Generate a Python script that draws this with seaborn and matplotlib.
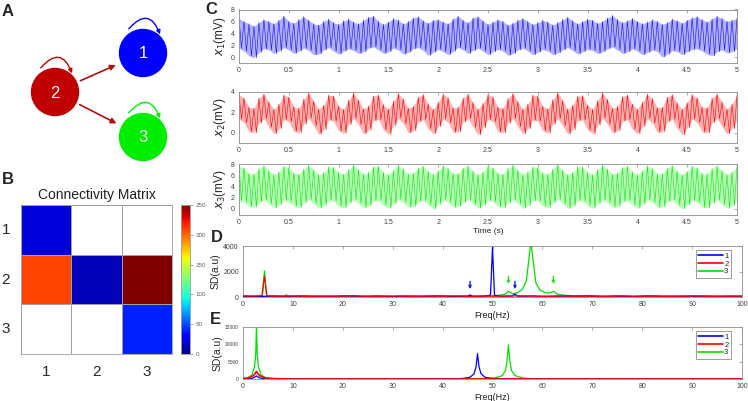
import numpy as np
import matplotlib
matplotlib.use("Agg")
import matplotlib.pyplot as plt
import seaborn as sns
from matplotlib.patches import Circle, FancyArrowPatch
from matplotlib.lines import Line2D
from matplotlib.ticker import FormatStrFormatter

sns.set_style("white")
plt.rcParams['font.family'] = ['Liberation Sans', 'DejaVu Sans']

# ---------------- data ----------------
# network (panel A), node centres in pixels of the panel
node_names = ['1', '2', '3']
node_x = [143, 55, 143]
node_y = [53, 92, 137]
node_colors = ['#0000ff', '#c00000', '#00ee00']
edges = [('2', '1'), ('2', '3')]

# connectivity matrix (panel B), NaN = no connection
conn = np.array([[20, np.nan, np.nan],
                 [209, 12, 250],
                 [np.nan, np.nan, 40]])

# time traces (panel C): upper / lower extremes read every 0.05 s
t_step = 0.05
x1_hi = [6.5, 6.0, 5.6, 5.2, 5.8, 6.3, 6.0, 5.6, 6.2, 6.9,
         6.0, 5.7, 6.3, 6.8, 6.2, 5.6, 5.4, 6.0, 6.4, 5.8,
         5.5, 6.1, 6.4, 5.9, 5.6, 6.2, 6.7, 6.9, 6.0, 5.5,
         5.9, 6.5, 6.2, 5.6, 6.0, 6.6, 6.8, 6.1, 5.7, 6.2,
         6.3, 5.9, 5.6, 6.4, 6.9, 6.2, 5.8, 6.6, 6.8, 6.1,
         5.5, 5.9, 6.3, 6.0, 5.4, 5.7, 6.2, 6.5, 6.0, 5.5,
         5.8, 6.2, 5.9, 5.4, 5.8, 6.3, 6.7, 6.1, 5.6, 6.0,
         6.4, 6.2, 5.7, 6.0, 6.6, 7.0, 6.3, 5.8, 6.1, 6.5,
         6.0, 5.6, 5.9, 6.3, 6.0, 5.5, 5.8, 6.4, 6.1, 5.7,
         6.2, 6.6, 6.8, 6.3, 5.9, 6.4, 6.9, 6.5, 6.0, 6.2,
         6.5]
x1_lo = [1.5, 1.0, 0.2, -0.1, 0.8, 1.4, 1.2, 0.6, 1.0, 1.6,
         1.2, 0.6, 1.0, 1.5, 1.1, 0.4, 0.5, 1.2, 1.6, 1.0,
         0.5, 1.0, 1.4, 1.1, 0.6, 0.9, 1.5, 1.7, 1.2, 0.6,
         0.9, 1.5, 1.2, 0.5, 0.8, 1.4, 1.6, 1.1, 0.3, 0.8,
         1.3, 0.9, 0.4, 1.0, 1.6, 1.2, 0.6, 1.1, 1.5, 1.0,
         0.4, 0.9, 1.3, 1.0, 0.3, 0.6, 1.2, 1.5, 1.0, 0.4,
         0.8, 1.3, 1.0, 0.4, 0.7, 1.2, 1.6, 1.1, 0.5, 0.9,
         1.3, 1.1, 0.6, 0.9, 1.4, 1.7, 1.2, 0.6, 0.9, 1.4,
         1.0, 0.4, 0.8, 1.2, 0.9, 0.0, 0.5, 1.1, 0.9, 0.4,
         0.9, 1.3, 1.4, 1.0, 0.5, 0.2, 0.9, 1.2, 0.7, 0.9,
         1.4]
x2_hi = [3.75, 3.4, 2.5, 2.4, 3.4, 3.8, 3.0, 2.3, 2.8, 3.7,
         3.5, 2.55, 2.4, 3.3, 3.9, 3.1, 2.3, 2.7, 3.7, 3.6,
         2.6, 2.3, 3.2, 3.9, 3.2, 2.35, 2.6, 3.6, 3.7, 2.75,
         2.3, 3.1, 3.85, 3.3, 2.4, 2.6, 3.5, 3.75, 2.8, 2.3,
         3.0, 3.8, 3.4, 2.45, 2.5, 3.4, 3.8, 2.95, 2.3, 2.9,
         3.75, 3.5, 2.5, 2.4, 3.35, 3.85, 3.05, 2.3, 2.8, 3.7,
         3.6, 2.6, 2.35, 3.25, 3.95, 3.15, 2.3, 2.7, 3.6, 3.65,
         2.7, 2.3, 3.15, 3.9, 3.25, 2.4, 2.6, 3.55, 3.7, 2.8,
         2.3, 3.0, 3.8, 3.35, 2.45, 2.5, 3.5, 3.75, 2.9, 2.3,
         2.95, 3.75, 3.4, 2.5, 2.45, 3.4, 3.8, 3.0, 2.3, 2.8,
         3.7]
x2_lo = [1.35, 1.0, 0.1, 0.0, 0.95, 1.4, 0.55, -0.1, 0.4, 1.3,
         1.1, 0.15, 0.0, 0.85, 1.45, 0.7, -0.15, 0.3, 1.25, 1.15,
         0.2, -0.05, 0.8, 1.4, 0.8, -0.1, 0.25, 1.2, 1.3, 0.3,
         -0.15, 0.7, 1.45, 0.9, 0.0, 0.2, 1.1, 1.3, 0.4, -0.1,
         0.6, 1.35, 1.0, 0.05, 0.1, 1.05, 1.4, 0.55, -0.2, 0.5,
         1.3, 1.1, 0.1, 0.0, 0.95, 1.4, 0.6, -0.1, 0.4, 1.25,
         1.15, 0.2, -0.05, 0.85, 1.4, 0.7, -0.1, 0.3, 1.2, 1.25,
         0.3, -0.1, 0.75, 1.45, 0.85, 0.0, 0.2, 1.15, 1.3, 0.35,
         -0.1, 0.6, 1.4, 0.95, 0.05, 0.1, 1.1, 1.35, 0.45, -0.2,
         0.5, 1.35, 1.0, 0.1, 0.0, 1.0, 1.4, 0.6, -0.1, 0.4,
         1.3]
x3_hi = [7.6, 7.3, 6.3, 6.2, 7.2, 7.7, 6.8, 6.1, 6.6, 7.6,
         7.4, 6.4, 6.2, 7.1, 7.8, 6.9, 6.1, 6.5, 7.5, 7.4,
         6.5, 6.2, 7.0, 7.8, 7.0, 6.2, 6.5, 7.5, 7.6, 6.5,
         6.1, 6.9, 7.8, 7.1, 6.2, 6.4, 7.3, 7.6, 6.7, 6.1,
         6.8, 7.7, 7.2, 6.3, 6.3, 7.3, 7.7, 6.7, 6.1, 6.6,
         7.6, 7.3, 6.4, 6.2, 7.2, 7.8, 6.9, 6.1, 6.6, 7.5,
         7.4, 6.4, 6.2, 7.1, 7.9, 6.9, 6.1, 6.5, 7.5, 7.5,
         6.5, 6.1, 7.0, 7.8, 7.1, 6.2, 6.4, 7.4, 7.6, 6.6,
         6.1, 6.8, 7.7, 7.2, 6.2, 6.3, 7.3, 7.7, 6.7, 6.1,
         6.7, 7.6, 7.3, 6.3, 6.2, 7.2, 7.7, 6.8, 6.1, 6.6,
         7.6]
x3_lo = [1.5, 1.2, 0.4, 0.3, 1.2, 1.6, 0.9, 0.2, 0.7, 1.5,
         1.3, 0.5, 0.2, 1.1, 1.7, 0.9, 0.1, 0.6, 1.5, 1.4,
         0.5, 0.2, 1.0, 1.6, 1.0, 0.2, 0.5, 1.4, 1.5, 0.6,
         0.1, 0.9, 1.7, 1.1, 0.3, 0.4, 1.3, 1.5, 0.7, 0.0,
         0.8, 1.6, 1.2, 0.3, 0.4, 1.2, 1.6, 0.8, 0.1, 0.7,
         1.5, 1.3, 0.4, 0.2, 1.1, 1.6, 0.9, 0.1, 0.6, 1.5,
         1.4, 0.5, 0.2, 1.1, 1.7, 0.9, 0.1, 0.5, 1.5, 1.4,
         0.6, 0.1, 0.9, 1.6, 1.1, 0.3, 0.4, 1.3, 1.5, 0.7,
         0.1, 0.8, 1.6, 1.2, 0.3, 0.3, 1.3, 1.6, 0.7, 0.0,
         0.7, 1.5, 1.2, 0.3, 0.2, 1.1, 1.6, 0.8, 0.1, 0.6,
         1.5]

# spectra, panel D
d1_f = [0, 3, 6, 9, 12, 15, 18, 21, 24, 27, 30, 33, 36, 39, 42, 44, 45, 45.5, 46, 47,
        48.5, 49.6, 50, 50.4, 51.5, 53, 54, 54.5, 55, 56, 58, 60, 63, 66, 69, 72, 75, 78, 81, 84,
        87, 90, 93, 96, 100]
d1_p = [60, 40, 70, 50, 80, 45, 60, 90, 50, 70, 40, 65, 55, 80, 50, 60, 70, 160, 60, 50,
        70, 150, 3900, 140, 60, 70, 80, 230, 70, 60, 80, 50, 70, 60, 90, 50, 70, 40, 80, 60,
        50, 70, 60, 50, 60]
d2_f = [0, 2, 3.8, 4.3, 4.8, 7, 10, 13, 16, 19, 22, 25, 28, 31, 34, 37, 40, 43, 46, 49,
        52, 55, 58, 61, 64, 67, 70, 73, 76, 79, 82, 85, 88, 91, 94, 97, 100]
d2_p = [90, 70, 100, 1650, 90, 60, 80, 50, 70, 60, 90, 50, 60, 80, 50, 70, 60, 80, 50, 70,
        60, 90, 70, 50, 80, 60, 70, 50, 80, 60, 70, 50, 60, 80, 50, 70, 60]
d3_f = [0, 2, 3.9, 4.3, 4.7, 6, 8.3, 8.7, 9.1, 12, 15, 18, 21, 24, 27, 30, 33, 36, 39, 42,
        45, 48, 50, 51.5, 52.5, 53.2, 54, 55, 56, 56.8, 57.3, 57.7, 58.1, 58.7, 59.5, 60.5, 61.5, 62.2, 63, 64.5,
        66, 69, 72, 75, 78, 81, 84, 87, 90, 93, 96, 100]
d3_p = [50, 60, 90, 2050, 80, 60, 70, 170, 60, 50, 70, 40, 60, 50, 70, 40, 60, 50, 70, 60,
        50, 70, 90, 150, 220, 450, 250, 330, 600, 1300, 3000, 4300, 3000, 1100, 550, 350, 300, 450, 220, 140,
        90, 60, 50, 70, 40, 60, 50, 70, 40, 60, 50, 60]
# arrows marking small peaks in D
arrow_f = [45.5, 53.2, 54.5, 62.2]
arrow_top = [1450, 1850, 1450, 1850]
arrow_tip = [400, 800, 400, 800]
arrow_col = ['#2020d0', '#20e020', '#2020d0', '#20e020']

# spectra, panel E
e1_f = [0, 1.5, 2.2, 2.7, 3.2, 4, 6, 10, 20, 30, 40, 44, 45.5, 46.3, 46.7, 47, 47.3, 47.7, 48.5, 50,
        55, 60, 70, 80, 90, 100]
e1_p = [0, 100, 400, 900, 400, 100, 20, 0, 0, 0, 50, 150, 500, 1500, 3500, 7300, 3500, 1500, 500, 150,
        30, 0, 0, 0, 0, 0]
e2_f = [0, 1, 2, 2.4, 2.7, 3.0, 3.4, 4.5, 6, 10, 100]
e2_p = [100, 300, 900, 1500, 2200, 1500, 900, 300, 100, 0, 0]
e3_f = [0, 1, 1.8, 2.3, 2.55, 2.7, 2.85, 3.1, 3.6, 4.5, 6, 10, 20, 30, 40, 48, 50.5, 52, 52.6, 52.9,
        53.2, 53.5, 53.8, 54.5, 56, 58, 62, 70, 80, 90, 100]
e3_p = [100, 400, 1200, 3500, 7000, 15500, 7000, 3500, 1200, 400, 150, 0, 0, 0, 0, 50, 300, 1000, 2500, 5000,
        9800, 5000, 2500, 1000, 300, 100, 0, 0, 0, 0, 0]

blue, red, green = '#0000ff', '#ff0000', '#00e000'
spine_col = '#8c8c8c'
tick_col = '#404040'

# ---------------- figure ----------------
W, H = 748, 401
fig = plt.figure(figsize=(W / 100, H / 100), dpi=100)


def px_axes(x0, y0, x1, y1):
    # axes from pixel box (top-left origin)
    return fig.add_axes([x0 / W, 1 - y1 / H, (x1 - x0) / W, (y1 - y0) / H])


def matlab_style(ax, size=5):
    for s in ax.spines.values():
        s.set_color(spine_col)
        s.set_linewidth(0.6)
    ax.tick_params(direction='in', top=True, right=True, length=2.5, width=0.5,
                   labelsize=size, colors=spine_col, labelcolor=tick_col, pad=3)


# panel A : network
axA = px_axes(0, 0, 220, 175)
axA.set_xlim(0, 220)
axA.set_ylim(175, 0)
axA.axis('off')
pos = {n: (x, y) for n, x, y in zip(node_names, node_x, node_y)}
for n, c in zip(node_names, node_colors):
    x, y = pos[n]
    axA.add_patch(Circle((x, y), 23.5, color=c, zorder=2))
    axA.text(x, y + 1, n, color='white', fontsize=12, ha='center', va='center', zorder=3,
             family='Liberation Sans')
    loop = FancyArrowPatch((x - 16, y - 22), (x + 18, y - 16), connectionstyle='arc3,rad=-0.9',
                           arrowstyle='-|>', mutation_scale=6, lw=1.0, color=c, zorder=1)
    axA.add_patch(loop)
for a, b in edges:
    xa, ya = pos[a]
    xb, yb = pos[b]
    v = np.array([xb - xa, yb - ya], dtype=float)
    v /= np.linalg.norm(v)
    arr = FancyArrowPatch((xa + 25 * v[0], ya + 25 * v[1]), (xb - 27 * v[0], yb - 27 * v[1]),
                          arrowstyle='-|>', mutation_scale=8, lw=1.2, color='#b01010', zorder=1)
    axA.add_patch(arr)

# panel B : connectivity matrix
axB = px_axes(21, 205, 172, 354)
cax = px_axes(181, 205, 190, 354)
sns.heatmap(conn, ax=axB, cbar_ax=cax, cmap='jet', vmin=0, vmax=250,
            linewidths=0.6, linecolor='#a0a0a0', square=False,
            xticklabels=node_names, yticklabels=node_names,
            cbar_kws={'ticks': [0, 50, 100, 150, 200, 250]})
axB.set_title('Connectivity Matrix', fontsize=10, pad=4, color='#202020')
axB.tick_params(length=0, labelsize=11, pad=8)
axB.set_yticklabels(node_names, rotation=0)
for s in axB.spines.values():
    s.set_visible(True)
    s.set_color('#a0a0a0')
    s.set_linewidth(0.6)
cax.tick_params(labelsize=4.5, length=2, width=0.4, colors='#606060', pad=2)
for s in cax.spines.values():
    s.set_visible(True)
    s.set_color('#a0a0a0')
    s.set_linewidth(0.5)

# panel C : time traces
t_env = np.arange(len(x1_hi)) * t_step
traces = [(x1_hi, x1_lo, '#1010e0', '#b0b0ff', 1, (9.5, 63), (-1, 8), [0, 2, 4, 6, 8]),
          (x2_hi, x2_lo, '#f00000', '#ffb0b0', 2, (92, 143), (-1, 4), [0, 2, 4]),
          (x3_hi, x3_lo, '#10e010', '#b8ffb8', 3, (164, 214.5), (-1, 8), [0, 2, 4, 6, 8])]
for hi, lo, dark, light, k, (ytop, ybot), ylim, yt in traces:
    ax = px_axes(239, ytop, 737, ybot)
    ax.fill_between(t_env, lo, hi, color=light, lw=0)
    tz = np.column_stack([t_env, t_env + t_step / 2]).ravel()
    vz = np.column_stack([hi, lo]).ravel()
    sns.lineplot(x=tz, y=vz, ax=ax, color=dark, lw=0.45, alpha=0.9, sort=False, estimator=None)
    ax.set_xlim(0, 5)
    ax.set_ylim(*ylim)
    ax.set_xticks(np.arange(0, 5.01, 0.5))
    ax.set_yticks(yt)
    ax.xaxis.set_major_formatter(FormatStrFormatter('%g'))
    ax.set_ylabel(r'$x_{%d}$(mV)' % k, fontsize=8.5, labelpad=2)
    matlab_style(ax, 5)
    if k == 3:
        ax.set_xlabel('Time (s)', fontsize=6, labelpad=2, color='#202020')

# panel D : spectra
axD = px_axes(243, 246, 742, 297)
sns.lineplot(x=d3_f, y=d3_p, ax=axD, color=green, lw=0.9, estimator=None, zorder=2)
sns.lineplot(x=d1_f, y=d1_p, ax=axD, color=blue, lw=0.9, estimator=None, zorder=3)
sns.lineplot(x=d2_f, y=d2_p, ax=axD, color=red, lw=0.9, estimator=None, zorder=4)
for f, top, tip, c in zip(arrow_f, arrow_top, arrow_tip, arrow_col):
    axD.annotate('', xy=(f, tip), xytext=(f, top),
                 arrowprops=dict(arrowstyle='-|>', color=c, lw=1.0, mutation_scale=4))
axD.set_xlim(0, 100)
axD.set_ylim(0, 4000)
axD.set_xticks(range(0, 101, 10))
axD.set_yticks([0, 2000, 4000])
axD.set_ylabel('SD(a.u)', fontsize=7.5, labelpad=2)
axD.set_xlabel('Freq(Hz)', fontsize=6.5, labelpad=2, color='#202020')
matlab_style(axD, 5)

# panel E : spectra
axE = px_axes(243, 327, 742, 379)
sns.lineplot(x=e3_f, y=e3_p, ax=axE, color=green, lw=0.9, estimator=None, zorder=2)
sns.lineplot(x=e1_f, y=e1_p, ax=axE, color=blue, lw=0.9, estimator=None, zorder=3)
sns.lineplot(x=e2_f, y=e2_p, ax=axE, color=red, lw=1.2, estimator=None, zorder=4)
axE.set_xlim(0, 100)
axE.set_ylim(0, 15000)
axE.set_xticks(range(0, 101, 10))
axE.set_yticks([0, 5000, 10000, 15000])
axE.set_ylabel('SD(a.u)', fontsize=7.5, labelpad=2)
axE.set_xlabel('Freq(Hz)', fontsize=6.5, labelpad=2, color='#202020')
matlab_style(axE, 5)
axE.tick_params(axis='y', labelsize=3.5)

handles = [Line2D([], [], color=c, lw=1.2) for c in (blue, red, green)]
for ax in (axD, axE):
    leg = ax.legend(handles, node_names, loc='upper right', bbox_to_anchor=(0.985, 0.99),
                    fontsize=5.5, handlelength=3.2, handletextpad=0.2, borderpad=0.3,
                    labelspacing=0.05, frameon=True, fancybox=False, markerfirst=True)
    leg.get_frame().set_edgecolor('#707070')
    leg.get_frame().set_linewidth(0.6)

# panel letters
for letter, x, y in [('A', 8, 12), ('B', 8, 180), ('C', 211, 9), ('D', 217, 238), ('E', 215, 320)]:
    fig.text(x / W, 1 - y / H, letter, fontsize=12, fontweight='bold', ha='center', va='center')

fig.savefig('out.png', dpi=100)
